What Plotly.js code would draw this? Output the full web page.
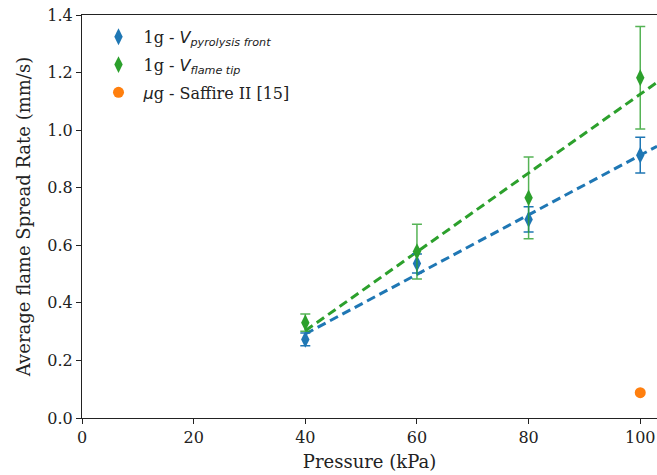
<!DOCTYPE html>
<html><head><meta charset="utf-8">
<script src="https://cdn.plot.ly/plotly-3.0.1.min.js"></script>
<style>html,body{margin:0;padding:0;background:#fff}</style>
</head><body>
<div id="chart" style="width:657px;height:475px"></div>
<script>
// Data
const pressure = [40, 60, 80, 100];
const vPyrolysis = [0.273, 0.537, 0.690, 0.913];
const vPyrolysisErr = [0.022, 0.033, 0.044, 0.062];
const vFlameTip = [0.331, 0.578, 0.765, 1.182];
const vFlameTipErr = [0.030, 0.095, 0.142, 0.178];
const saffireX = [100];
const saffireY = [0.088];
const fitX = [40, 103];
const fitPyrolysis = [0.292, 0.944];
const fitFlameTip = [0.303, 1.166];

const blue = '#1f77b4', green = '#2ca02c', orange = '#ff7f0e';
const serif = 'DejaVu Serif, serif';

const traces = [
  {x: fitX, y: fitFlameTip, mode: 'lines', line: {color: green, width: 3, dash: '9px,5px'}, showlegend: false, hoverinfo: 'skip'},
  {x: fitX, y: fitPyrolysis, mode: 'lines', line: {color: blue, width: 3, dash: '9px,5px'}, showlegend: false, hoverinfo: 'skip'},
  {x: pressure, y: vPyrolysis, mode: 'markers', type: 'scatter', legendgroup: 'a',
   name: '1g - <span style="font-family:DejaVu Sans"><i>V</i><sub><i>pyrolysis front</i></sub></span>',
   marker: {symbol: 'diamond-tall', size: 12, color: blue},
   error_y: {type: 'data', array: vPyrolysisErr, color: blue, thickness: 1.5, width: 5}},
  {x: pressure, y: vFlameTip, mode: 'markers', type: 'scatter', legendgroup: 'b',
   name: '1g - <span style="font-family:DejaVu Sans"><i>V</i><sub><i>flame tip</i></sub></span>',
   marker: {symbol: 'diamond-tall', size: 12, color: green},
   error_y: {type: 'data', array: vFlameTipErr, color: 'rgba(44,160,44,0.8)', thickness: 1.5, width: 5}},
  {x: saffireX, y: saffireY, mode: 'markers', type: 'scatter', legendgroup: 'c',
   name: '<span style="font-family:DejaVu Sans"><i>μ</i></span>g - Saffire II [15]',
   marker: {symbol: 'circle', size: 11, color: orange}}
];

const layout = {
  width: 657, height: 475,
  margin: {l: 82, r: 0, t: 15, b: 57},
  paper_bgcolor: '#fff', plot_bgcolor: '#fff',
  font: {family: serif, size: 16, color: '#222'},
  showlegend: true,
  legend: {x: 0.02, y: 0.988, xanchor: 'left', yanchor: 'top', bgcolor: 'rgba(255,255,255,0)',
           font: {family: serif, size: 16, color: '#222'}, tracegroupgap: 4, itemwidth: 40},
  xaxis: {range: [0, 103], tickvals: [0, 20, 40, 60, 80, 100], showgrid: false, zeroline: false,
          showline: true, linecolor: '#222', linewidth: 1, mirror: true,
          ticks: 'outside', ticklen: 5, tickcolor: '#222',
          tickfont: {family: serif, size: 16, color: '#222'},
          title: {text: 'Pressure (kPa)', font: {family: serif, size: 18, color: '#222'}, standoff: 9}},
  yaxis: {range: [0, 1.4], tickvals: [0, 0.2, 0.4, 0.6, 0.8, 1.0, 1.2, 1.4], tickformat: '.1f',
          showgrid: false, zeroline: false,
          showline: true, linecolor: '#222', linewidth: 1,
          ticks: 'outside', ticklen: 5, tickcolor: '#222',
          tickfont: {family: serif, size: 16, color: '#222'},
          title: {text: 'Average flame Spread Rate (mm/s)', font: {family: serif, size: 18, color: '#222'}, standoff: 12}}
};

Plotly.newPlot('chart', traces, layout, {displayModeBar: false, staticPlot: true});
</script>
</body></html>
